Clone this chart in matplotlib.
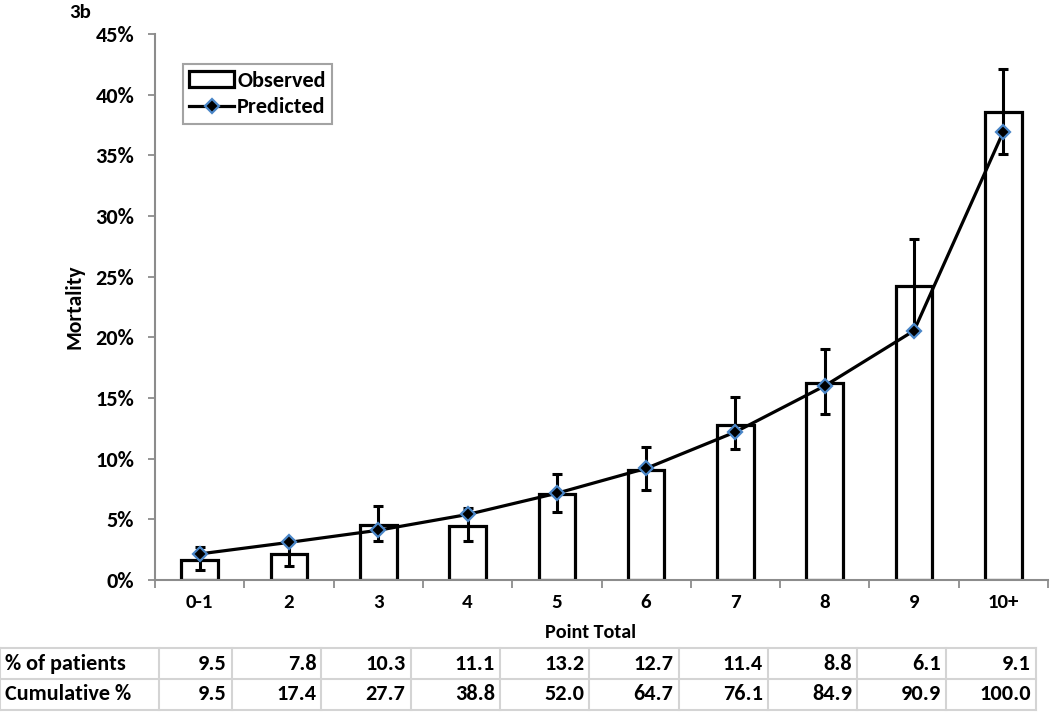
import matplotlib
matplotlib.use("Agg")
import matplotlib.pyplot as plt
from matplotlib.lines import Line2D
from matplotlib.ticker import FixedLocator, FuncFormatter

categories = ["0-1", "2", "3", "4", "5", "6", "7", "8", "9", "10+"]
observed = [1.65, 2.15, 4.5, 4.45, 7.05, 9.1, 12.8, 16.2, 24.2, 38.6]
err_low = [0.8, 1.15, 3.2, 3.2, 5.6, 7.4, 10.8, 13.7, 20.4, 35.1]
err_high = [2.75, 3.3, 6.1, 5.9, 8.7, 11.0, 15.05, 19.0, 28.1, 42.1]
predicted = [2.15, 3.1, 4.1, 5.4, 7.15, 9.2, 12.2, 16.0, 20.55, 36.95]
pct_patients = ["9.5", "7.8", "10.3", "11.1", "13.2", "12.7", "11.4", "8.8", "6.1", "9.1"]
cumulative = ["9.5", "17.4", "27.7", "38.8", "52.0", "64.7", "76.1", "84.9", "90.9", "100.0"]
row_labels = ["% of patients", "Cumulative %"]

FAM = "Carlito"
plt.rcParams["font.family"] = FAM
plt.rcParams["font.weight"] = "bold"
WT = "bold"

W, H = 1050, 713
fig = plt.figure(figsize=(W / 100, H / 100), dpi=100)
ax = fig.add_axes([155 / W, 1 - 580 / H, (1048 - 155) / W, (580 - 34) / H])

x = list(range(len(categories)))
gray = "#8c8c8c"

bars = ax.bar(x, observed, width=0.41, color="white", edgecolor="black", linewidth=2.3,
              label="Observed", zorder=2)
yerr = [[o - l for o, l in zip(observed, err_low)], [h - o for o, h in zip(observed, err_high)]]
ax.errorbar(x, observed, yerr=yerr, fmt="none", ecolor="black", elinewidth=2.2,
            capsize=3.8, capthick=2.2, zorder=3)
line, = ax.plot(x, predicted, color="black", linewidth=2.3, marker="D", markersize=7,
                markerfacecolor="black", markeredgecolor="#4a86c8", markeredgewidth=1.6,
                label="Predicted", zorder=4)

ax.set_xlim(-0.5, len(categories) - 0.5)
ax.set_ylim(0, 45)
ax.yaxis.set_major_locator(FixedLocator(list(range(0, 46, 5))))
ax.yaxis.set_major_formatter(FuncFormatter(lambda v, p: f"{int(round(v))}%"))
ax.xaxis.set_major_locator(FixedLocator([i - 0.5 for i in range(len(categories) + 1)]))
ax.xaxis.set_major_formatter(FuncFormatter(lambda v, p: ""))
ax.xaxis.set_minor_locator(FixedLocator(x))
ax.set_xticklabels(categories, minor=True)
ax.tick_params(axis="x", which="major", direction="out", length=6, width=1.3, color=gray)
ax.tick_params(axis="x", which="minor", length=0, pad=10, labelsize=15)
ax.tick_params(axis="y", direction="out", length=5, width=1.3, color=gray, pad=10, labelsize=16)
for lab in ax.get_xticklabels(minor=True) + ax.get_yticklabels():
    lab.set_fontweight(WT)
    lab.set_family(FAM)

for s in ["top", "right"]:
    ax.spines[s].set_visible(False)
for s in ["left", "bottom"]:
    ax.spines[s].set_color(gray)
    ax.spines[s].set_linewidth(1.5)

ax.set_ylabel("Mortality", fontsize=15.5, fontweight=WT, family=FAM, labelpad=8)
fig.text(591 / W, 1 - 633 / H, "Point Total", ha="center", va="center",
         fontsize=14.5, fontweight=WT, family=FAM)
fig.text(80 / W, 1 - 13 / H, "3b", ha="center", va="center", fontsize=15, fontweight=WT, family=FAM)

leg = ax.legend(handles=[bars, line], labels=["Observed", "Predicted"],
                loc="upper left", bbox_to_anchor=(0.031, 0.945), borderaxespad=0,
                fancybox=False, frameon=True, prop={"weight": WT, "size": 16, "family": FAM},
                handlelength=2.0, handletextpad=0.15, borderpad=0.3, labelspacing=0.3)
leg.get_frame().set_edgecolor(gray)
leg.get_frame().set_linewidth(1.5)

# table below the chart
col_edges = [0, 159, 232] + [232 + 89.3 * i for i in range(1, 10)]
row_edges = [648, 679, 710]
lc = "#d4d4d4"
for ye in row_edges:
    fig.add_artist(Line2D([col_edges[0] / W, col_edges[-1] / W], [1 - ye / H, 1 - ye / H],
                          color=lc, linewidth=1.5, transform=fig.transFigure))
for xe in col_edges:
    fig.add_artist(Line2D([xe / W, xe / W], [1 - row_edges[0] / H, 1 - row_edges[-1] / H],
                          color=lc, linewidth=1.5, transform=fig.transFigure))
rows = [pct_patients, cumulative]
for r, (lab, vals) in enumerate(zip(row_labels, rows)):
    yc = 1 - (row_edges[r] + row_edges[r + 1]) / 2 / H
    fig.text(5 / W, yc, lab, ha="left", va="center", fontsize=16, fontweight=WT, family=FAM)
    for c, v in enumerate(vals):
        fig.text((col_edges[c + 2] - 5) / W, yc, v, ha="right", va="center",
                 fontsize=16, fontweight=WT, family=FAM)

fig.savefig("out.png", dpi=100, facecolor="white")
